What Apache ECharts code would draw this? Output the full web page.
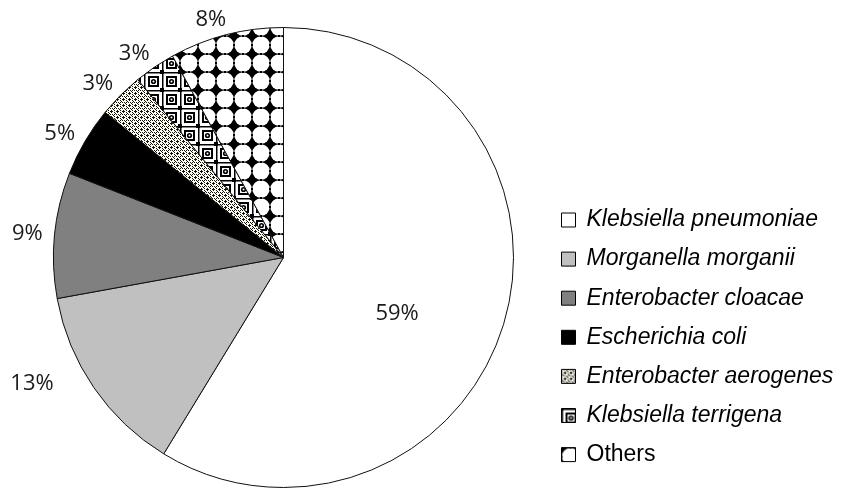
<!DOCTYPE html>
<html>
<head>
<meta charset="utf-8">
<script src="https://cdn.jsdelivr.net/npm/echarts@6/dist/echarts.min.js"></script>
<style>html,body{margin:0;padding:0;background:#fff;}#c{width:856px;height:489px;}</style>
</head>
<body>
<div id="c"></div>
<script>
var categories = ['Klebsiella pneumoniae', 'Morganella morganii', 'Enterobacter cloacae', 'Escherichia coli', 'Enterobacter aerogenes', 'Klebsiella terrigena', 'Others'];
var values = [58.6, 13.4, 8.8, 4.9, 3.2, 2.9, 8.0];

function tile(size, draw) {
  var c = document.createElement('canvas');
  c.width = size; c.height = size;
  var ctx = c.getContext('2d');
  draw(ctx, size);
  return c;
}
var aerogenesTile = tile(6, function (ctx) {
  ctx.fillStyle = '#fffef0'; ctx.fillRect(0, 0, 6, 6);
  ctx.fillStyle = '#111';
  [[0,0],[2,0],[4,0],[0,2],[0,4],[3,3],[2,3],[4,3],[3,2],[3,4],[1,5],[5,1]].forEach(function (p) { ctx.fillRect(p[0], p[1], 1, 1); });
});
var terrigenaTile = tile(18, function (ctx) {
  ctx.fillStyle = '#fff'; ctx.fillRect(0, 0, 18, 18);
  ctx.fillStyle = '#000';
  ctx.fillRect(0, 0, 18, 1.5); ctx.fillRect(0, 0, 1.5, 18);
  ctx.fillRect(-2, -2, 4, 4); ctx.fillRect(16, -2, 4, 4); ctx.fillRect(-2, 16, 4, 4); ctx.fillRect(16, 16, 4, 4);
  ctx.fillRect(4, 4, 11, 11);
  ctx.fillStyle = '#fff'; ctx.fillRect(6, 6, 7, 7);
  ctx.fillStyle = '#000'; ctx.beginPath(); ctx.arc(9.5, 9.5, 2.6, 0, Math.PI * 2); ctx.fill();
  ctx.fillStyle = '#fff'; ctx.beginPath(); ctx.arc(9.5, 9.5, 1, 0, Math.PI * 2); ctx.fill();
});
var othersTile = tile(18, function (ctx) {
  ctx.fillStyle = '#000'; ctx.fillRect(0, 0, 18, 18);
  ctx.fillStyle = '#fff'; ctx.beginPath(); ctx.arc(9, 9, 8.7, 0, Math.PI * 2); ctx.fill();
  ctx.fillStyle = '#000';
  ctx.fillRect(0, 0, 3, 3); ctx.fillRect(15, 0, 3, 3); ctx.fillRect(0, 15, 3, 3); ctx.fillRect(15, 15, 3, 3);
  ctx.fillRect(8, 0, 2, 1); ctx.fillRect(8, 17, 2, 1); ctx.fillRect(0, 8, 1, 2); ctx.fillRect(17, 8, 1, 2);
});

var fills = ['#ffffff', '#c0c0c0', '#808080', '#000000',
  { image: aerogenesTile, repeat: 'repeat' },
  { image: terrigenaTile, repeat: 'repeat' },
  { image: othersTile, repeat: 'repeat' }];

var data = categories.map(function (name, i) {
  var d = { name: name, value: values[i], itemStyle: { color: fills[i] } };
  if (i === 0) d.label = { position: 'inside', offset: [0, 24] };
  if (i === 1) d.label = { offset: [-31, -13] };
  return d;
});

var chart = echarts.init(document.getElementById('c'), null, { renderer: 'canvas' });
chart.setOption({
  animation: false,
  backgroundColor: '#ffffff',
  legend: {
    orient: 'vertical',
    left: 556,
    top: 202,
    itemWidth: 14,
    itemHeight: 14,
    itemGap: 13.1,
    icon: 'rect',
    itemStyle: { borderColor: '#000', borderWidth: 1 },
    textStyle: {
      fontFamily: 'Liberation Sans',
      fontStyle: 'italic',
      fontSize: 23,
      lineHeight: 26,
      color: '#000',
      padding: [0, 0, 0, 6],
      rich: { n: { fontFamily: 'Liberation Sans', fontStyle: 'normal', fontSize: 23, color: '#000' } }
    },
    formatter: function (name) { return name === 'Others' ? '{n|' + name + '}' : name; },
    data: categories
  },
  series: [{
    type: 'pie',
    center: [283.5, 257.5],
    radius: 230,
    startAngle: 90,
    clockwise: true,
    avoidLabelOverlap: false,
    itemStyle: { borderColor: '#111', borderWidth: 1 },
    emphasis: { disabled: true },
    label: {
      show: true,
      position: 'outside',
      fontFamily: 'Open Sans',
      fontSize: 22,
      color: '#1a1a1a',
      distanceToLabelLine: -4,
      formatter: function (p) { return Math.round(p.percent) + '%'; }
    },
    labelLine: { show: false, length: 16, length2: 0 },
    data: data
  }]
});
</script>
</body>
</html>
